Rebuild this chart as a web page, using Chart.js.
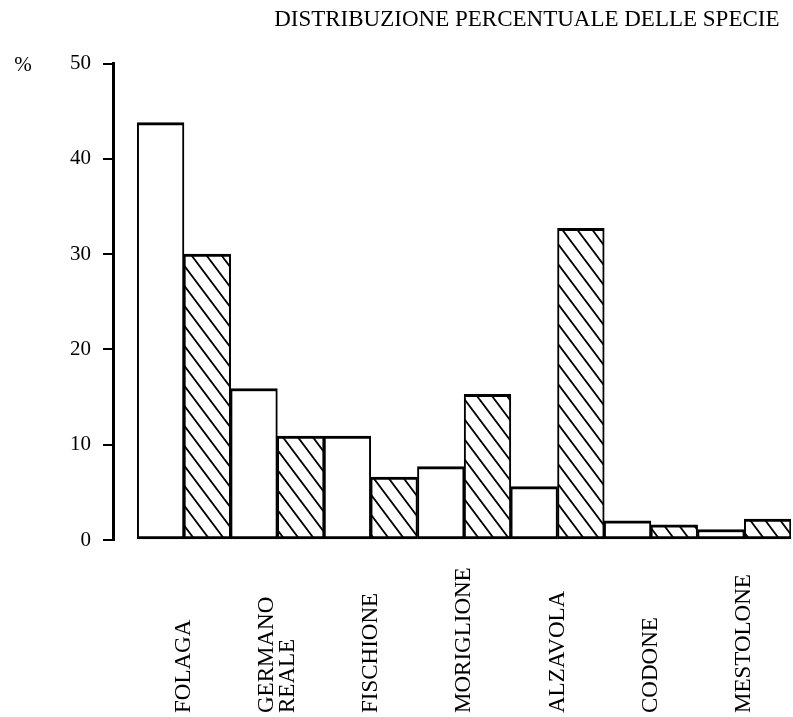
<!DOCTYPE html>
<html>
<head>
<meta charset="utf-8">
<script src="https://cdn.jsdelivr.net/npm/chart.js@4/dist/chart.umd.min.js"></script>
<style>
  body { margin: 0; background: #fff; }
  canvas { display: block; }
</style>
</head>
<body>
<canvas id="chart" width="793" height="717"></canvas>
<script>
// categories (multi-line labels as arrays)
var categories = [["FOLAGA"], ["GERMANO", "REALE"], ["FISCHIONE"], ["MORIGLIONE"], ["ALZAVOLA"], ["CODONE"], ["MESTOLONE"]];
// white bars
var series_white = [43.8, 15.9, 10.9, 7.7, 5.6, 2.0, 1.1];
// hatched bars
var series_hatched = [30.0, 10.9, 6.6, 15.3, 32.7, 1.6, 2.2];
var y_ticks = [0, 10, 20, 30, 40, 50];
var title_text = "DISTRIBUZIONE PERCENTUALE DELLE SPECIE";
var unit_text = "%";

var serif = "'Liberation Serif', 'DejaVu Serif', serif";

function make_hatch() {
    var w = 15, h = 20;
    var c = document.createElement("canvas");
    c.width = w; c.height = h;
    var g = c.getContext("2d");
    g.fillStyle = "#fff";
    g.fillRect(0, 0, w, h);
    g.strokeStyle = "#000";
    g.lineWidth = 1.8;
    for (var k = -1; k <= 1; k++) {
        g.beginPath();
        g.moveTo(-w, -h + k * h);
        g.lineTo(2 * w, 2 * h + k * h);
        g.stroke();
    }
    return document.getElementById("chart").getContext("2d").createPattern(c, "repeat");
}

// draws the rotated category labels (bottom aligned) and the % sign
var labelsPlugin = {
    id: "labels_plugin",
    afterDraw: function (chart) {
        var ctx = chart.ctx;
        var xs = chart.scales.x;
        var ys = chart.scales.y;
        ctx.save();
        ctx.fillStyle = "#000";
        ctx.font = "23px " + serif;
        ctx.textAlign = "left";
        ctx.textBaseline = "middle";
        var bottom = chart.height - 4;
        for (let i = 0; i < categories.length; i++) {
            const lines = categories[i];
            const x = xs.getPixelForValue(i);
            ctx.save();
            ctx.translate(x, bottom);
            ctx.rotate(-Math.PI / 2);
            for (let j = 0; j < lines.length; j++) {
                ctx.fillText(lines[j], 0, (j - (lines.length - 1) / 2) * 21);
            }
            ctx.restore();
        }
        // unit label
        ctx.font = "21px " + serif;
        ctx.textAlign = "center";
        ctx.fillText(unit_text, 23, ys.getPixelForValue(y_ticks[y_ticks.length - 1]) + 2);
        ctx.restore();
    }
};

var hatch = make_hatch();

var ctx = document.getElementById("chart").getContext("2d");
const config = {
    type: "bar",
    data: {
        datasets: [
            {
                label: "white",
                data: series_white.map((v, i) => ({ x: i, y: v })),
                backgroundColor: "#fff",
                borderColor: "#000",
                borderWidth: { left: 2, right: 2, top: 3, bottom: 3 },
                borderSkipped: false,
                categoryPercentage: 1,
                barPercentage: 1
            },
            {
                label: "hatched",
                data: series_hatched.map((v, i) => ({ x: i, y: v })),
                backgroundColor: hatch,
                borderColor: "#000",
                borderWidth: { left: 2, right: 2, top: 3, bottom: 3 },
                borderSkipped: false,
                categoryPercentage: 1,
                barPercentage: 1
            }
        ]
    },
    options: {
        responsive: false,
        animation: false,
        devicePixelRatio: 1,
        layout: {
            padding: { left: 58, right: 2, top: 0, bottom: 177 }
        },
        plugins: {
            legend: { display: false },
            tooltip: { enabled: false },
            title: {
                display: true,
                text: title_text + "\u00a0\u00a0",
                align: "end",
                color: "#000",
                font: { family: serif, size: 23, weight: "normal" },
                padding: { top: 6, bottom: 30 }
            }
        },
        scales: {
            x: {
                type: "linear",
                display: false,
                offset: false,
                min: -0.76,
                max: 6.5,
                afterBuildTicks: function (axis) {
                    axis.ticks = categories.map((c, i) => ({ value: i }));
                }
            },
            y: {
                min: 0,
                max: 50,
                afterBuildTicks: function (axis) {
                    axis.ticks = y_ticks.map(v => ({ value: v }));
                },
                border: { display: true, color: "#000", width: 3 },
                grid: {
                    drawOnChartArea: false,
                    drawTicks: true,
                    tickLength: 10,
                    color: "#000",
                    lineWidth: 2
                },
                ticks: {
                    color: "#000",
                    padding: 12,
                    font: { family: serif, size: 21 }
                }
            }
        }
    },
    plugins: [labelsPlugin]
};

var myChart = new Chart(ctx, config);
</script>
</body>
</html>
